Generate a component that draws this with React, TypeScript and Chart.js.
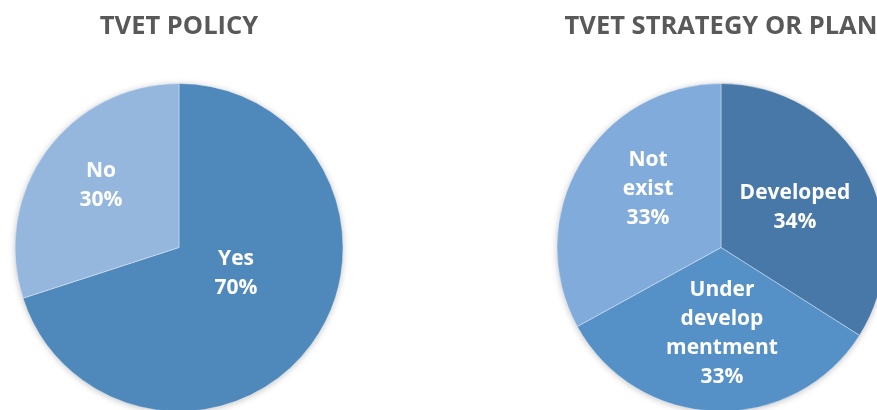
import React, { useEffect, useRef } from "react";
import { Chart, registerables } from "chart.js";

Chart.register(...registerables);

// ---- data ----
const policyTitle = "TVET POLICY";
const policyCategories = [["Yes"], ["No"]];
const policyValues = [70, 30];
const policyColors = ["#4F89BC", "#95B7DD"];

const strategyTitle = "TVET STRATEGY OR PLAN";
const strategyCategories = [["Developed"], ["Under", "develop", "mentment"], ["Not", "exist"]];
const strategyValues = [34, 33, 33];
const strategyColors = ["#4878A8", "#5590C7", "#81ABDB"];

// label anchor offsets relative to pie center, in fractions of radius (style only)
const policyLabelOffsets = [
  [0.348, 0.159],
  [-0.476, -0.378],
];
const strategyLabelOffsets = [
  [0.451, -0.244],
  [0.006, 0.527],
  [-0.445, -0.354],
];

const FONT = "'Open Sans', 'DejaVu Sans', sans-serif";

const shadowPlugin = {
  id: "pieShadow",
  beforeDatasetsDraw(chart: any) {
    const meta = chart.getDatasetMeta(0);
    const arc = meta.data[0];
    if (!arc) return;
    const { x, y, outerRadius } = arc.getProps(["x", "y", "outerRadius"], true);
    const ctx = chart.ctx;
    ctx.save();
    ctx.shadowColor = "rgba(0,0,0,0.28)";
    ctx.shadowBlur = 7;
    ctx.shadowOffsetX = 0;
    ctx.shadowOffsetY = 1;
    ctx.fillStyle = "#ffffff";
    ctx.beginPath();
    ctx.arc(x, y, outerRadius - 0.5, 0, Math.PI * 2);
    ctx.fill();
    ctx.restore();
  },
};

const labelPlugin = {
  id: "sliceLabels",
  afterDatasetsDraw(chart: any, _args: any, opts: any) {
    const meta = chart.getDatasetMeta(0);
    const data = chart.data.datasets[0].data as number[];
    const total = data.reduce((a, b) => a + b, 0);
    const cats = chart.data.labels as string[][];
    const offsets = opts.offsets as number[][];
    const ctx = chart.ctx;
    ctx.save();
    ctx.fillStyle = "#ffffff";
    ctx.font = `bold ${opts.size}px ${FONT}`;
    ctx.textAlign = "center";
    ctx.textBaseline = "middle";
    meta.data.forEach((arc: any, i: number) => {
      const { x, y, outerRadius } = arc.getProps(["x", "y", "outerRadius"], true);
      const lines = [...cats[i], Math.round((data[i] / total) * 100) + "%"];
      const cx = x + offsets[i][0] * outerRadius;
      const cy = y + offsets[i][1] * outerRadius;
      const lh = opts.lineHeight;
      const start = cy - ((lines.length - 1) * lh) / 2;
      lines.forEach((t, k) => ctx.fillText(t, cx, start + k * lh));
    });
    ctx.restore();
  },
};

function PieChart(props: {
  title: string;
  labels: string[][];
  values: number[];
  colors: string[];
  offsets: number[][];
  left: number;
}) {
  const ref = useRef<HTMLCanvasElement | null>(null);
  useEffect(() => {
    if (!ref.current) return;
    const chart = new Chart(ref.current, {
      type: "pie",
      data: {
        labels: props.labels as any,
        datasets: [
          {
            data: props.values,
            backgroundColor: props.colors,
            borderColor: "rgba(255,255,255,0.35)",
            borderWidth: 1,
          },
        ],
      },
      options: {
        responsive: false,
        animation: false,
        layout: { padding: 0 },
        plugins: {
          legend: { display: false },
          tooltip: { enabled: false },
          title: {
            display: true,
            text: props.title,
            color: "#595959",
            font: { family: FONT, size: 25.5, weight: "bold", lineHeight: 1.2 },
            padding: { top: 11, bottom: 41.4 },
          },
          sliceLabels: { offsets: props.offsets, size: 21, lineHeight: 29 },
        } as any,
      },
      plugins: [shadowPlugin, labelPlugin],
    });
    return () => chart.destroy();
  }, []);
  return (
    <canvas
      ref={ref}
      width={358}
      height={412}
      style={{ position: "absolute", left: props.left, top: 0, width: 358, height: 412 }}
    />
  );
}

export default function App() {
  return (
    <div
      style={{
        position: "fixed",
        left: 0,
        top: 0,
        width: 877,
        height: 410,
        overflow: "hidden",
        background: "#ffffff",
      }}
    >
      <PieChart
        title={policyTitle}
        labels={policyCategories}
        values={policyValues}
        colors={policyColors}
        offsets={policyLabelOffsets}
        left={0}
      />
      <PieChart
        title={strategyTitle}
        labels={strategyCategories}
        values={strategyValues}
        colors={strategyColors}
        offsets={strategyLabelOffsets}
        left={542}
      />
    </div>
  );
}
